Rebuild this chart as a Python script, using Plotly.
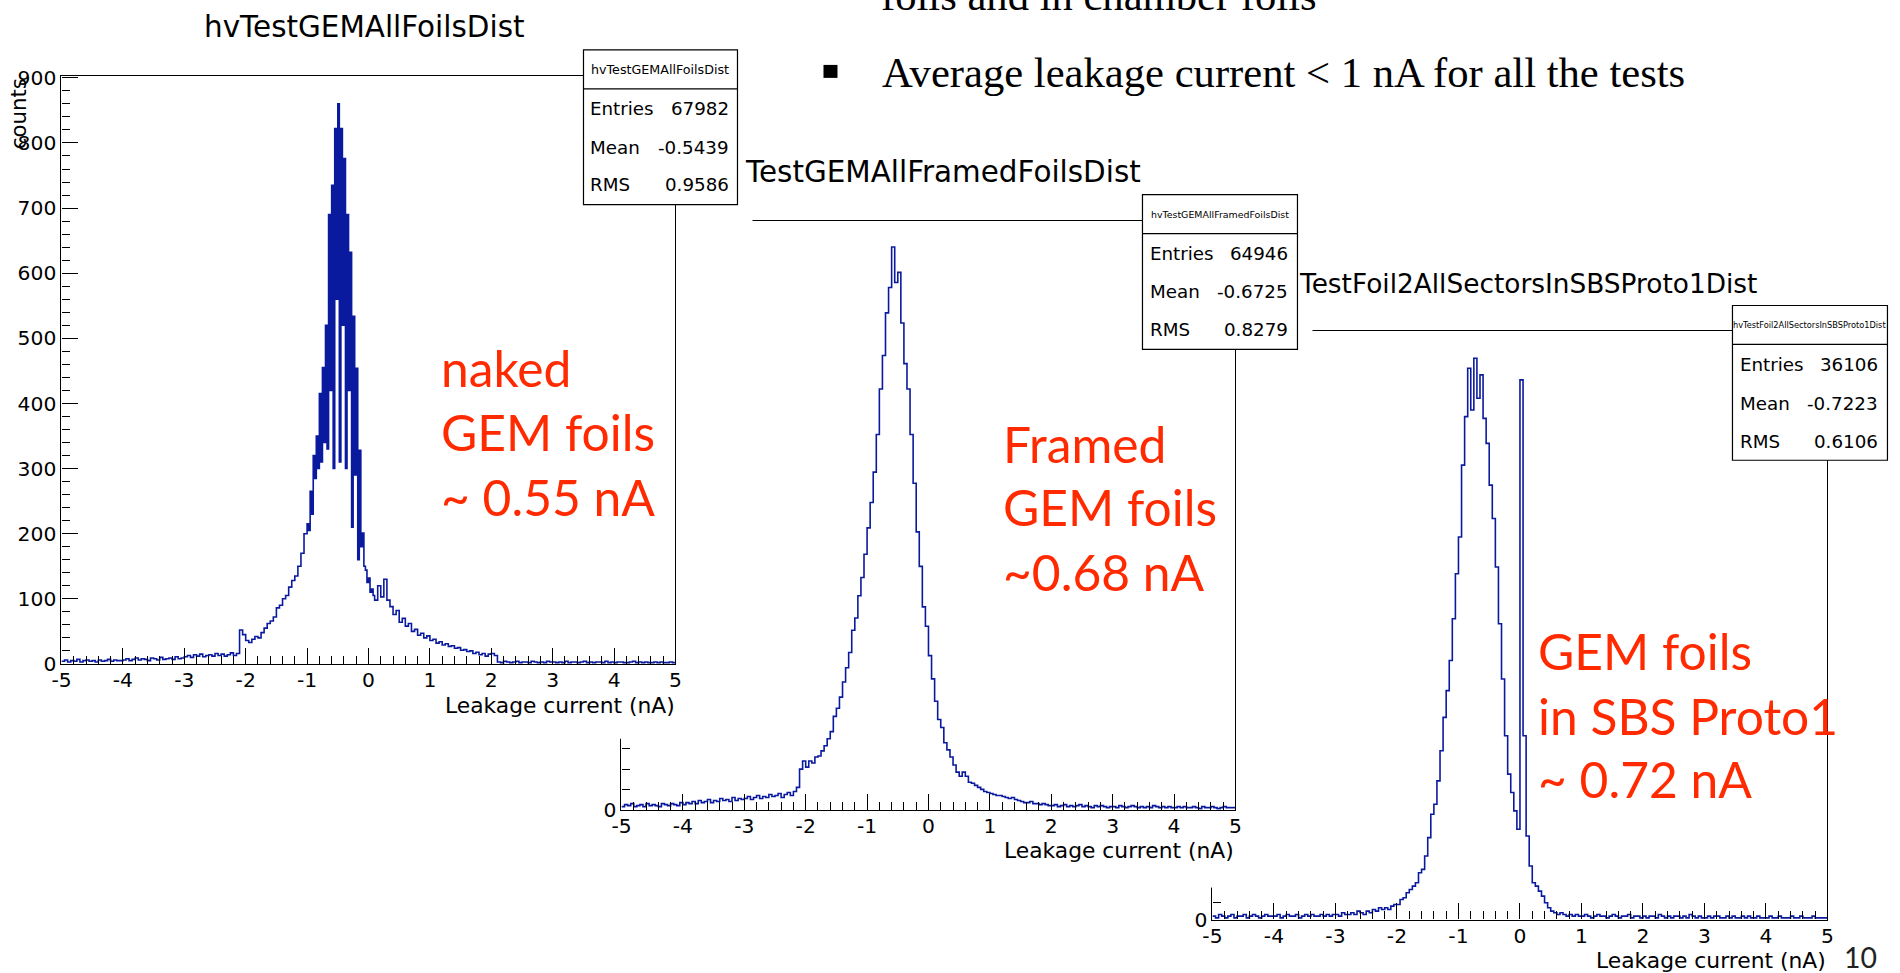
import numpy as np
import plotly.graph_objects as go

W, H = 1900, 973

# ------------------------------------------------------------------ data
# Leakage current bins (nA, left edges) and counts
p1_bins = np.round(np.concatenate([np.linspace(-5.0, -1.05, 80),
                                   np.linspace(-1.0, 0.075, 44),
                                   np.linspace(0.1, 4.95, 98)]), 3)
p1_counts = (
    [4, 6, 3, 5, 4, 7, 3, 5, 6, 4, 5, 3, 6, 4, 5, 7, 4, 6, 5, 5]
    + [6, 8, 5, 7, 9, 6, 8, 7, 5, 9, 8, 6, 10, 7, 8, 9, 7, 11, 8, 9]
    + [11, 13, 10, 14, 12, 15, 11, 13, 14, 12, 16, 13, 15, 12, 14, 17, 13, 16]
    + [52, 45, 36, 33, 38, 42, 40, 48, 55, 62, 66, 72, 86, 90, 100, 105, 118, 128, 135, 150, 170, 200]
    + [215, 205, 265, 230, 320, 285, 350, 300, 415, 310, 455, 340, 520, 330, 690, 420,
       735, 300, 822, 560, 860, 310, 822, 520, 776, 300, 690, 420, 632, 210, 534, 290,
       454, 160, 328, 180, 201, 150, 144, 125, 132, 110, 115, 105]
    + [98, 120, 103, 130, 98, 88, 76, 82, 64, 70, 58, 62, 50, 53, 44, 47, 40, 43, 36, 38,
       32, 34, 29, 31, 27, 28, 24, 25, 21, 22, 19, 20, 16, 18, 14, 16, 12, 15, 16, 13]
    + [3, 2, 4, 3, 2, 3, 4, 2, 3, 3, 2, 4, 3, 2, 3, 2, 4, 3, 3, 2,
       3, 2, 4, 2, 3, 3, 2, 3, 4, 2, 3, 2, 3, 3, 2, 4, 2, 3, 2, 3,
       3, 2, 2, 3, 4, 2, 3, 2, 3, 2, 2, 3, 2, 3, 2, 2, 3, 2]
)

p2_bins = np.round(np.linspace(-5.0, 4.95, 200), 3)
p2_counts = (
    [3, 5, 4, 6, 3, 4, 5, 3, 6, 4, 5, 4, 3, 6, 5, 4, 6, 5, 4, 7]
    + [5, 7, 6, 8, 6, 9, 7, 8, 10, 7, 9, 8, 11, 9, 10, 8, 12, 9, 11, 10]
    + [11, 13, 10, 12, 14, 11, 13, 12, 15, 13, 14, 16, 12, 15, 17, 14, 18, 22, 40, 48]
    + [42, 48, 46, 52, 53, 58, 63, 70, 77, 92, 100, 111, 126, 140, 155, 177, 189, 211, 229, 252]
    + [278, 303, 333, 370, 415, 448, 490, 515, 555, 520, 530, 480, 440, 415, 370, 322, 274, 240, 200, 181]
    + [152, 129, 107, 89, 81, 66, 59, 52, 44, 37, 33, 37, 33, 27, 26, 24, 22, 20, 18, 17]
    + [16, 15, 14, 14, 13, 12, 11, 12, 10, 9, 8, 7, 7, 8, 6, 6, 5, 6, 5, 4]
    + [4, 5, 3, 4, 5, 3, 4, 3, 4, 5, 3, 4, 3, 2, 4, 3, 4, 3, 2, 3]
    + [3, 2, 4, 3, 2, 3, 4, 3, 2, 3, 2, 3, 2, 4, 3, 2, 3, 2, 3, 2]
    + [2, 3, 2, 3, 2, 2, 3, 2, 1, 3, 2, 2, 3, 2, 1, 2, 3, 2, 2, 2]
)

p3_bins = np.round(np.linspace(-5.0, 4.95, 200), 3)
p3_counts = (
    [2, 1, 3, 2, 1, 2, 3, 1, 2, 2, 3, 1, 2, 3, 2, 1, 2, 3, 2, 2]
    + [2, 3, 1, 2, 3, 2, 2, 3, 1, 2, 3, 2, 3, 2, 2, 3, 2, 3, 2, 3]
    + [3, 2, 4, 3, 3, 4, 3, 5, 4, 3, 5, 4, 6, 5, 7, 6, 7, 6, 8, 9]
    + [9, 12, 13, 16, 18, 20, 22, 28, 30, 38, 49, 63, 69, 83, 101, 121, 137, 155, 180, 207]
    + [229, 272, 301, 330, 305, 336, 312, 326, 300, 285, 260, 240, 211, 177, 144, 110, 87, 76, 65, 54]
    + [323, 110, 50, 32, 22, 20, 17, 14, 10, 7, 5, 4, 3, 4, 3, 2, 3, 2, 3, 2]
    + [2, 3, 2, 1, 2, 3, 2, 2, 1, 2, 3, 2, 1, 2, 2, 3, 1, 2, 2, 1]
    + [2, 1, 2, 2, 1, 3, 2, 1, 2, 1, 2, 2, 1, 2, 1, 3, 2, 1, 2, 1]
    + [1, 2, 1, 2, 2, 1, 1, 2, 1, 2, 1, 1, 2, 1, 2, 1, 1, 2, 1, 1]
    + [1, 2, 1, 1, 2, 1, 1, 1, 2, 1, 1, 2, 1, 1, 1, 2, 1, 1, 1, 1]
)

assert len(p1_bins) == len(p1_counts)
assert len(p2_bins) == len(p2_counts)
assert len(p3_bins) == len(p3_counts)

x_tickvals = [-5, -4, -3, -2, -1, 0, 1, 2, 3, 4, 5]
x_ticktext = ["-5", "-4", "-3", "-2", "-1", "0", "1", "2", "3", "4", "5"]

hist_names = ["hvTestGEMAllFoilsDist", "hvTestGEMAllFramedFoilsDist",
              "hvTestFoil2AllSectorsInSBSProto1Dist"]
shown_titles = ["hvTestGEMAllFoilsDist", "TestGEMAllFramedFoilsDist",
                "TestFoil2AllSectorsInSBSProto1Dist"]
stat_entries = ["67982", "64946", "36106"]
stat_means = ["-0.5439", "-0.6725", "-0.7223"]
stat_rms = ["0.9586", "0.8279", "0.6106"]
red_notes = [["naked", "GEM foils", "~ 0.55 nA"],
             ["Framed", "GEM foils", "~0.68 nA"],
             ["GEM foils", "in SBS Proto1", "~ 0.72 nA"]]
bullet_text = "Average leakage current < 1 nA for all the tests"
cut_text = "foils and in chamber foils"
slide_number = "10"

# ------------------------------------------------------------------ style
ROOT_FONT = "DejaVu Sans, Liberation Sans, Arial, sans-serif"
RED_FONT = "Lato, Open Sans, sans-serif"
SERIF = "Liberation Serif, Times New Roman, serif"
BLUE = "#0a1a9e"
RED = "#ff2a00"

# the photographed page comes out slightly offset and shrunk; compensate
AX, SX = 8.5, 0.9916
AY, SY = 8.0, 0.979
FS = 1.015  # font compensation


def fx(px):
    return ((px - AX) / SX) / W


def fy(py):
    return 1 - ((py - AY) / SY) / H


def clamp(v):
    return min(1.0, max(0.0, v))


fig = go.Figure()
layout = {}

# subplot order = drawing order (later ones cover earlier ones)
# 1 base, 2 panel3, 3 canvas2, 4 panel2, 5 canvas1, 6 panel1
plain = {
    3: ((560, 1311), (120, 887)),
    5: ((0, 751), (0, 738)),
}
panels = {
    2: dict(px=(1211, 1826), py=(330, 919), ymax=352, dt=50, mdt=10,
            bins=p3_bins, counts=p3_counts),
    4: dict(px=(620, 1234), py=(219, 809), ymax=581, dt=100, mdt=20,
            bins=p2_bins, counts=p2_counts),
    6: dict(px=(60, 674), py=(74, 663), ymax=903, dt=100, mdt=20,
            bins=p1_bins, counts=p1_counts),
}


def axname(k, a):
    return f"{a}axis" if k == 1 else f"{a}axis{k}"


def axref(k, a):
    return a if k == 1 else f"{a}{k}"


for k in range(1, 7):
    if k == 1 or k in plain:
        if k == 1:
            xd, yd = [0, 1], [0, 1]
        else:
            (x0, x1), (y0, y1) = plain[k]
            xd = [clamp(fx(x0)), clamp(fx(x1))]
            yd = [clamp(fy(y1)), clamp(fy(y0))]
        layout[axname(k, "x")] = dict(domain=xd, range=[0, 1], visible=False,
                                      fixedrange=True, anchor=axref(k, "y"))
        layout[axname(k, "y")] = dict(domain=yd, range=[0, 1], visible=False,
                                      fixedrange=True, anchor=axref(k, "x"))
        fig.add_trace(go.Scatter(x=[None], y=[None], xaxis=axref(k, "x"), yaxis=axref(k, "y"),
                                 showlegend=False, hoverinfo="skip"))
    else:
        p = panels[k]
        common = dict(showline=True, mirror=True, linecolor="black", linewidth=1.2,
                      ticks="inside", tickcolor="black", tickwidth=1, ticklen=16,
                      showgrid=False, zeroline=False, fixedrange=True,
                      tickfont=dict(family=ROOT_FONT, size=20 * FS, color="black"))
        layout[axname(k, "x")] = dict(
            domain=[fx(p["px"][0]), fx(p["px"][1])], range=[-5, 5],
            tickmode="array", tickvals=x_tickvals, ticktext=x_ticktext,
            minor=dict(ticks="inside", ticklen=8, tickcolor="black", tickwidth=1,
                       dtick=0.2, tick0=0, showgrid=False),
            ticklabelstandoff=-2, anchor=axref(k, "y"), **common)
        layout[axname(k, "y")] = dict(
            domain=[fy(p["py"][1]), fy(p["py"][0])], range=[0, p["ymax"]],
            dtick=p["dt"], tick0=0,
            minor=dict(ticks="inside", ticklen=8, tickcolor="black", tickwidth=1,
                       dtick=p["mdt"], tick0=0, showgrid=False),
            ticklabelstandoff=0, anchor=axref(k, "x"), **common)
        xs = list(p["bins"]) + [5.0]
        ys = list(p["counts"]) + [p["counts"][-1]]
        fig.add_trace(go.Scatter(x=xs, y=ys, mode="lines", line_shape="hv",
                                 line=dict(color=BLUE, width=1.6),
                                 xaxis=axref(k, "x"), yaxis=axref(k, "y"),
                                 showlegend=False, hoverinfo="skip"))

# ------------------------------------------------------------------ text & boxes
annotations = []
shapes = []


def text(px, py, s, size, font=ROOT_FONT, color="black", xanchor="left", angle=0):
    annotations.append(dict(x=fx(px), y=fy(py), xref="paper", yref="paper", text=s,
                            showarrow=False, xanchor=xanchor, yanchor="middle",
                            borderpad=0, borderwidth=0, textangle=angle,
                            font=dict(family=font, size=size * FS, color=color)))


def rect(x0, y0, x1, y1, fill="white", lw=1.2):
    shapes.append(dict(type="rect", xref="paper", yref="paper", x0=fx(x0), x1=fx(x1),
                       y0=fy(y1), y1=fy(y0), fillcolor=fill,
                       line=dict(color="black", width=lw), layer="above"))


def hline(x0, x1, y, lw=1.2):
    shapes.append(dict(type="line", xref="paper", yref="paper", x0=fx(x0), x1=fx(x1),
                       y0=fy(y), y1=fy(y), line=dict(color="black", width=lw), layer="above"))


# titles
text(363, 25, shown_titles[0], 29, xanchor="center")
text(1140, 170, shown_titles[1], 29, xanchor="right")
text(1756, 282, shown_titles[2], 26, xanchor="right")

# axis titles
text(674, 705, "Leakage current (nA)", 21.5, xanchor="right")
text(1233, 850, "Leakage current (nA)", 21.5, xanchor="right")
text(1825, 960, "Leakage current (nA)", 21.5, xanchor="right")
text(17, 112, "counts", 21, xanchor="center", angle=-90)

# stats boxes
boxes = [
    dict(x0=582, x1=736, y0=48, y1=203, div=87, head=68, hsize=12.5,
         lx=589, rx=728, rows=(107, 146, 183)),
    dict(x0=1141, x1=1296, y0=193, y1=348, div=232, head=213, hsize=9.3,
         lx=1149, rx=1287, rows=(252, 290, 328)),
    dict(x0=1731, x1=1886, y0=304, y1=459, div=343, head=324, hsize=8.1,
         lx=1739, rx=1877, rows=(363, 402, 440)),
]
for i, b in enumerate(boxes):
    rect(b["x0"], b["y0"], b["x1"], b["y1"])
    hline(b["x0"], b["x1"], b["div"])
    text((b["x0"] + b["x1"]) / 2, b["head"], hist_names[i], b["hsize"], xanchor="center")
    labels = ["Entries", "Mean", "RMS"]
    vals = [stat_entries[i], stat_means[i], stat_rms[i]]
    for lab, val, ry in zip(labels, vals, b["rows"]):
        text(b["lx"], ry, lab, 18)
        text(b["rx"], ry, val, 18, xanchor="right")

# red notes
red_pos = [(440, (367, 431, 496)), (1002, (443, 506, 571)), (1537, (650, 715, 778))]
for lines, (x, ys) in zip(red_notes, red_pos):
    for s, y in zip(lines, ys):
        text(x, y, s, 49, font=RED_FONT, color=RED)

# slide text
text(880, -7, cut_text, 42, font=SERIF)
text(881, 71, bullet_text, 42, font=SERIF)
rect(822, 63, 836, 76, fill="black", lw=0)
text(1859, 957, slide_number, 28, font=RED_FONT, color="#222222", xanchor="center")

fig.update_layout(
    width=W, height=H, margin=dict(l=0, r=0, t=0, b=0, pad=0),
    paper_bgcolor="white", plot_bgcolor="white", showlegend=False, hovermode=False,
    annotations=annotations, shapes=shapes, **layout)

fig.write_html("out.html")
